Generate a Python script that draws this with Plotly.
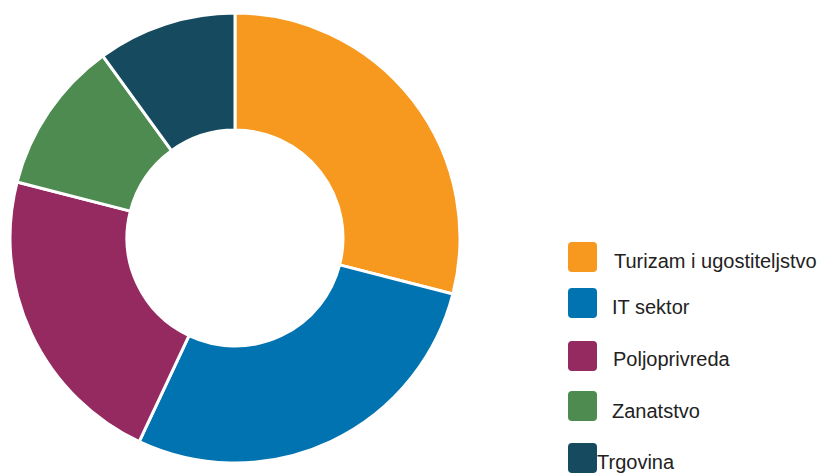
import plotly.graph_objects as go

categories = ["Turizam i ugostiteljstvo", "IT sektor", "Poljoprivreda", "Zanatstvo", "Trgovina"]
values = [29, 28, 22, 11, 10]
colors = ["#F7981F", "#0073B0", "#952A61", "#4D8B50", "#164B5F"]

W, H = 820, 473


def px(x):
    return x / W


def py(y):
    return 1 - y / H


fig = go.Figure(go.Pie(
    labels=categories, values=values, sort=False, direction="clockwise", rotation=0,
    hole=0.48, marker=dict(colors=colors, line=dict(color="white", width=3)),
    textinfo="none", hoverinfo="label+percent", showlegend=False,
    domain=dict(x=[px(10), px(460)], y=[py(463), py(13)]),
))

# custom legend with large rounded markers
tops = [242, 288, 341, 391, 443]
text_x = [612, 610, 611, 610, 595]
text_y = [261, 307, 359, 411, 462]
shapes, annotations = [], []
for i, (cat, col) in enumerate(zip(categories, colors)):
    x0, x1 = 568, 597
    y0, y1 = tops[i], tops[i] + 30
    r = 4
    path = (f"M {px(x0+r)},{py(y0)} L {px(x1-r)},{py(y0)} Q {px(x1)},{py(y0)} {px(x1)},{py(y0+r)} "
            f"L {px(x1)},{py(y1-r)} Q {px(x1)},{py(y1)} {px(x1-r)},{py(y1)} "
            f"L {px(x0+r)},{py(y1)} Q {px(x0)},{py(y1)} {px(x0)},{py(y1-r)} "
            f"L {px(x0)},{py(y0+r)} Q {px(x0)},{py(y0)} {px(x0+r)},{py(y0)} Z")
    shapes.append(dict(type="path", xref="paper", yref="paper", path=path,
                       fillcolor=col, line=dict(width=0)))
    annotations.append(dict(text=cat, xref="paper", yref="paper", x=px(text_x[i]), y=py(text_y[i]),
                            xanchor="left", yanchor="middle", showarrow=False,
                            font=dict(family="Liberation Sans, Arial, sans-serif", size=20, color="#222222")))

fig.update_layout(
    width=W, height=H, margin=dict(l=0, r=0, t=0, b=0),
    paper_bgcolor="white", plot_bgcolor="white",
    shapes=shapes, annotations=annotations,
)

fig.write_html("out.html", config={"displayModeBar": False},
               post_script="document.body.style.margin='0';document.body.style.overflow='hidden';")
